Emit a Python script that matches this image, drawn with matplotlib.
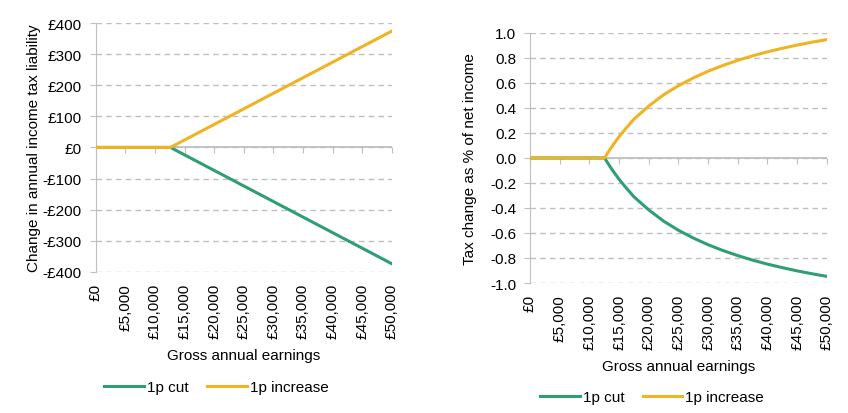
import matplotlib.pyplot as plt
from matplotlib.ticker import FuncFormatter, MultipleLocator

plt.rcParams['font.family'] = ['Liberation Sans', 'DejaVu Sans']
plt.rcParams['axes.unicode_minus'] = False

# Gross annual earnings (£)
earnings = [0, 5000, 10000, 12570, 12800, 13000, 13500, 14000, 15000, 16000,
            17500, 20000, 22500, 25000, 27500, 30000, 32500, 35000, 37500,
            40000, 42500, 45000, 47500, 50000]

# Change in annual income tax liability (£), 1p increase
tax_increase = [0, 0, 0, 0, 2, 4, 9, 14, 24, 34, 49, 74, 99, 124, 149, 174,
                199, 224, 249, 274, 299, 324, 349, 374]
tax_cut = [-v for v in tax_increase]

# Tax change as % of net income, 1p increase
pct_increase = [0, 0, 0, 0, 0.018, 0.033, 0.07, 0.105, 0.17, 0.228, 0.31,
                0.415, 0.505, 0.578, 0.64, 0.694, 0.74, 0.781, 0.817, 0.849,
                0.877, 0.903, 0.926, 0.947]
pct_cut = [-v for v in pct_increase]

green = '#2f9e73'
yellow = '#f0b323'
grey = '#bfbfbf'
fs = 11

fig = plt.figure(figsize=(8.48, 4.14), dpi=100)


def style(ax, ylim, ystep, yfmt, ylabel, ylab_x):
    ax.set_xlim(0, 50000)
    ax.set_ylim(*ylim)
    ax.yaxis.set_major_locator(MultipleLocator(ystep))
    ax.yaxis.set_major_formatter(FuncFormatter(yfmt))
    ax.xaxis.set_major_locator(MultipleLocator(5000))
    ax.xaxis.set_major_formatter(FuncFormatter(lambda v, p: '£{:,.0f}'.format(v)))
    for s in ['top', 'right', 'bottom']:
        ax.spines[s].set_visible(False)
    ax.spines['left'].set_color(grey)
    ax.tick_params(axis='x', length=0, labelsize=fs, rotation=90, pad=8)
    ax.tick_params(axis='y', length=4, color=grey, labelsize=fs, pad=6)
    ax.grid(axis='y', color=grey, linestyle=(0, (4, 3)), linewidth=1)
    ax.set_axisbelow(True)
    # solid horizontal axis at zero with small downward ticks
    ax.axhline(0, color=grey, lw=1.3, zorder=1.5)
    sec = ax.secondary_xaxis(0.5)
    sec.xaxis.set_major_locator(MultipleLocator(5000))
    sec.tick_params(axis='x', which='both', direction='out', length=4,
                    color=grey, bottom=True, top=False,
                    labelbottom=False, labeltop=False)
    for sp in sec.spines.values():
        sp.set_visible(False)
    ax.set_xlabel('Gross annual earnings', fontsize=fs, labelpad=7)
    ax.set_ylabel(ylabel, fontsize=fs)
    ax.yaxis.set_label_coords(ylab_x, 0.5)


# Left panel
ax1 = fig.add_axes([0.113, 0.341, 0.349, 0.601])
l1, = ax1.plot(earnings, tax_cut, color=green, lw=2.2, label='1p cut', zorder=3)
l2, = ax1.plot(earnings, tax_increase, color=yellow, lw=2.2,
               label='1p increase', zorder=3)
style(ax1, (-400, 400), 100,
      lambda v, p: ('-£%d' % abs(v)) if v < 0 else '£%d' % v,
      'Change in annual income tax liability', -0.185)
fig.legend(handles=[l1, l2], loc='center', bbox_to_anchor=(0.255, 0.063),
           ncol=2, frameon=False, fontsize=fs, handlelength=2.6,
           handletextpad=0.2, columnspacing=1.2)

# Right panel
ax2 = fig.add_axes([0.625, 0.314, 0.350, 0.604])
r1, = ax2.plot(earnings, pct_cut, color=green, lw=2.2, label='1p cut', zorder=3)
r2, = ax2.plot(earnings, pct_increase, color=yellow, lw=2.2,
               label='1p increase', zorder=3)
style(ax2, (-1, 1), 0.2, lambda v, p: '%.1f' % v,
      'Tax change as % of net income', -0.18)
fig.legend(handles=[r1, r2], loc='center', bbox_to_anchor=(0.769, 0.039),
           ncol=2, frameon=False, fontsize=fs, handlelength=2.6,
           handletextpad=0.2, columnspacing=1.2)

fig.savefig('out.png', dpi=100)
